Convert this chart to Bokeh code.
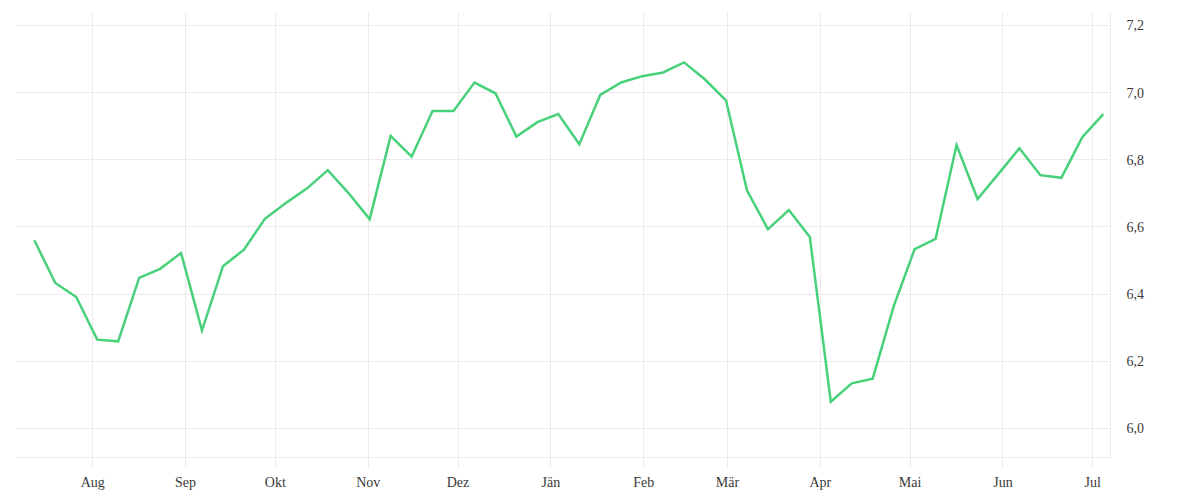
import pandas as pd
from bokeh.plotting import figure
from bokeh.models import FixedTicker, CustomJSTickFormatter, Range1d, ColumnDataSource
from bokeh.embed import file_html
from bokeh.resources import INLINE

# ---- data ----
start_date = "2022-07-12 12:00"
n_weeks = 52
values = [6.560, 6.433, 6.391, 6.264, 6.259, 6.448, 6.475, 6.522, 6.292, 6.483,
          6.532, 6.624, 6.671, 6.714, 6.769, 6.700, 6.623, 6.871, 6.809, 6.945,
          6.945, 7.030, 6.998, 6.869, 6.912, 6.936, 6.846, 6.993, 7.030, 7.049,
          7.060, 7.090, 7.039, 6.977, 6.709, 6.593, 6.650, 6.570, 6.079, 6.134,
          6.148, 6.363, 6.534, 6.564, 6.844, 6.683, 6.758, 6.834, 6.754, 6.746,
          6.867, 6.936]
month_starts = ["2022-08-01", "2022-09-01", "2022-10-01", "2022-11-01", "2022-12-01",
                "2023-01-01", "2023-02-01", "2023-03-01", "2023-04-01", "2023-05-01",
                "2023-06-01", "2023-07-01"]
month_labels = ["Aug", "Sep", "Okt", "Nov", "Dez", "Jän", "Feb", "Mär", "Apr", "Mai", "Jun", "Jul"]
y_ticks = [6.0, 6.2, 6.4, 6.6, 6.8, 7.0, 7.2]

dates = pd.date_range(start_date, periods=n_weeks, freq="7D")
src = ColumnDataSource(dict(x=dates, y=values))

def ms(s):
    return pd.Timestamp(s).value / 1e6

x_ticks = [ms(s) for s in month_starts]

p = figure(width=1192, height=492, output_backend="svg", toolbar_location=None,
           x_axis_type="datetime", y_axis_location="right",
           x_range=Range1d(ms("2022-07-06 05:00"), ms("2023-07-06 22:00")),
           y_range=Range1d(5.913, 7.2386),
           min_border_left=15, min_border_top=12, min_border_right=82, min_border_bottom=34)
p.background_fill_color = "white"
p.border_fill_color = "white"
p.outline_line_color = None

p.line("x", "y", source=src, line_color="#48d17a", line_width=2.5, line_join="miter")

font = "Liberation Serif"
grid_color = "#ebebeb"

xa = p.xaxis[0]
xa.ticker = FixedTicker(ticks=x_ticks, minor_ticks=[])
xa.formatter = CustomJSTickFormatter(args=dict(mticks=x_ticks, mlabels=month_labels), code="""
    let best = 0, bd = Infinity;
    for (let i = 0; i < mticks.length; i++) {
        const d = Math.abs(mticks[i] - tick);
        if (d < bd) { bd = d; best = i; }
    }
    return mlabels[best];
""")
xa.axis_line_color = grid_color
xa.major_tick_line_color = grid_color
xa.major_tick_out = 10
xa.major_tick_in = 0
xa.minor_tick_line_color = None
xa.major_label_standoff = 7
xa.major_label_text_font = font
xa.major_label_text_font_size = "14px"
xa.major_label_text_color = "#3a3a3a"

ya = p.yaxis[0]
ya.ticker = FixedTicker(ticks=y_ticks, minor_ticks=[])
ya.formatter = CustomJSTickFormatter(code="return tick.toFixed(1).replace('.', ',');")
ya.axis_line_color = grid_color
ya.major_tick_line_color = None
ya.major_tick_out = 0
ya.major_tick_in = 0
ya.minor_tick_line_color = None
ya.major_label_standoff = 16
ya.major_label_text_font = font
ya.major_label_text_font_size = "14px"
ya.major_label_text_color = "#3a3a3a"

p.xgrid.ticker = FixedTicker(ticks=x_ticks)
p.ygrid.ticker = FixedTicker(ticks=y_ticks)
p.xgrid.grid_line_color = grid_color
p.ygrid.grid_line_color = grid_color

open("out.html", "w").write(file_html(p, INLINE))
